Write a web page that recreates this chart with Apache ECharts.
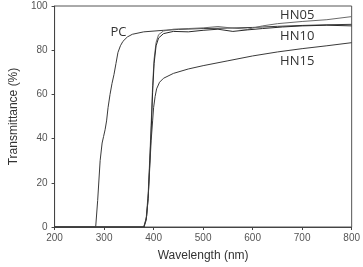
<!DOCTYPE html>
<html>
<head>
<meta charset="UTF-8">
<title></title>
<script type="text/javascript" src="https://cdn.jsdelivr.net/npm/echarts@6/dist/echarts.min.js"></script>
<style>
	html, body { margin: 0; padding: 0; background: #fff; }
	#chartArea { width: 363px; height: 267px; }
</style>
</head>
<body>
<div id="chartArea"></div>
<script type="text/javascript">
	// [wavelength nm, transmittance %]
	var pcData = [[200, 0], [283, 0], [287, 12], [292, 30], [296, 38], [299, 41], [302, 44], [305, 48], [308, 54], [312, 60], [316, 65], [320, 69], [324, 74], [328, 79], [333, 82], [338, 84], [347, 86], [357, 87.2], [380, 88.3], [420, 89], [450, 89.4], [500, 89.8], [550, 90], [600, 90.3], [650, 90.8], [700, 91.2], [750, 91.5], [800, 91.7]];
	var hn05Data = [[200, 0], [380, 0], [385, 4], [389, 15], [392, 30], [395, 46], [398, 64], [401, 76], [405, 83.5], [410, 87], [420, 88.7], [440, 89.5], [470, 89.8], [500, 90.1], [530, 90.7], [560, 90], [590, 89.5], [620, 91], [650, 92], [700, 93], [750, 93.8], [800, 95.2]];
	var hn10Data = [[200, 0], [380, 0], [385, 3], [389, 13], [392, 28], [395, 43], [398, 61], [401, 74], [405, 82], [410, 85.5], [420, 87.5], [440, 88.5], [470, 88.3], [500, 89], [530, 89.5], [560, 88.5], [590, 89.2], [620, 89.8], [660, 90.5], [700, 91], [750, 91.3], [800, 91]];
	var hn15Data = [[200, 0], [381, 0], [386, 5], [389, 13], [392, 26], [395, 39], [398, 48], [400, 54], [403, 59], [406, 62.5], [412, 65.5], [420, 67.3], [440, 69.5], [470, 71.5], [500, 73], [550, 75.2], [600, 77.4], [650, 79.2], [700, 80.7], [750, 82], [800, 83.4]];

	// curve labels and where they sit (data coords)
	var labelNames = ['PC', 'HN05', 'HN10', 'HN15'];
	var labelPos = [[329, 88], [690, 95.6], [690, 86.4], [690, 75.1]];

	var myChart = echarts.init(document.getElementById('chartArea'));

	var lineStyleOf = function(c) {
		return { color: c, width: 1 };
	};

	var option = {
		animation: false,
		grid: {
			left: 45,
			right: 6,
			top: 6,
			bottom: 36,
			show: true,
			borderColor: '#555',
			borderWidth: 1
		},
		xAxis: {
			type: 'value',
			min: 200,
			max: 800,
			interval: 100,
			name: 'Wavelength (nm)',
			nameLocation: 'middle',
			nameGap: 23,
			nameTextStyle: { color: '#333', fontSize: 12, fontFamily: 'Liberation Sans' },
			axisLine: { lineStyle: { color: '#444' } },
			axisTick: { length: 3, lineStyle: { color: '#444' } },
			axisLabel: { color: '#555', fontSize: 10, margin: 6, fontFamily: 'Liberation Sans' },
			splitLine: { show: false }
		},
		yAxis: {
			type: 'value',
			min: 0,
			max: 100,
			interval: 20,
			name: 'Transmittance (%)',
			nameLocation: 'middle',
			nameGap: 31,
			nameTextStyle: { color: '#333', fontSize: 12, fontFamily: 'Liberation Sans' },
			axisLine: { show: true, lineStyle: { color: '#444' } },
			axisTick: { show: true, length: 3, lineStyle: { color: '#444' } },
			axisLabel: { color: '#555', fontSize: 10, margin: 7, fontFamily: 'Liberation Sans' },
			splitLine: { show: false }
		},
		series: [{
			name: 'PC',
			type: 'line',
			showSymbol: false,
			data: pcData,
			lineStyle: lineStyleOf('#3a3a3a'),
			markPoint: {
				symbol: 'circle',
				symbolSize: 0,
				label: { show: true, color: '#333', fontSize: 13, fontFamily: 'Open Sans', formatter: '{b}', position: 'inside' },
				data: labelNames.map(function(n, i) {
					return { name: n, coord: labelPos[i] };
				})
			}
		}, {
			name: 'HN05',
			type: 'line',
			showSymbol: false,
			data: hn05Data,
			lineStyle: lineStyleOf('#6a6a6a')
		}, {
			name: 'HN10',
			type: 'line',
			showSymbol: false,
			data: hn10Data,
			lineStyle: lineStyleOf('#2a2a2a')
		}, {
			name: 'HN15',
			type: 'line',
			showSymbol: false,
			data: hn15Data,
			lineStyle: lineStyleOf('#3a3a3a')
		}]
	};
	myChart.setOption(option);
</script>
</body>
</html>
